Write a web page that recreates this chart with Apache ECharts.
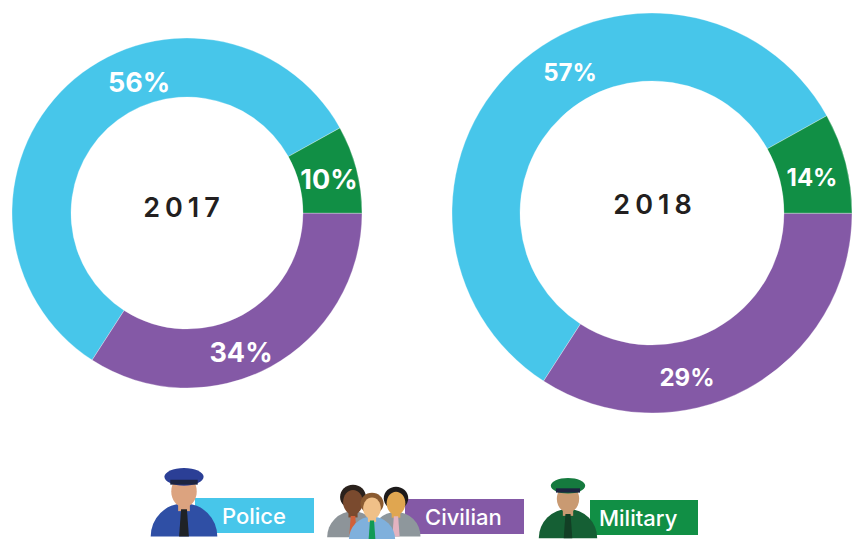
<!DOCTYPE html>
<html>
<head>
<meta charset="utf-8">
<style>
html, body { margin: 0; padding: 0; background: #fff; }
#chart { width: 857px; height: 539px; }
</style>
<script src="https://cdn.jsdelivr.net/npm/echarts@6/dist/echarts.min.js"></script>
</head>
<body>
<div id="chart"></div>
<script>
var categories = ['Police', 'Civilian', 'Military'];
var colors = ['#47c6ea', '#8459a6', '#118f45'];
var years = ['2017', '2018'];

// printed labels do not add up with the drawn arcs in the original,
// so the arcs (share of the ring) are kept apart
var arcs2017 = [57.8, 34.1, 8.1];
var arcs2018 = [57.8, 34.1, 8.1];
var labels2017 = ['56%', '34%', '10%'];
var labels2018 = ['57%', '29%', '14%'];

var fontName = 'Inter, "Open Sans", sans-serif';

function ring(arcs, labels, center, radius, labelPos, fontSize) {
    var data = [];
    for (var i = 0; i < categories.length; i++) {
        data.push({
            name: categories[i],
            value: arcs[i],
            itemStyle: { color: colors[i] },
            label: { formatter: labels[i] }
        });
    }
    return {
        type: 'pie',
        center: center,
        radius: radius,
        startAngle: 29.1,
        clockwise: false,
        silent: true,
        animation: false,
        itemStyle: { borderColor: '#fff', borderWidth: 0.3 },
        label: {
            show: true,
            position: 'inside',
            color: '#fff',
            fontFamily: fontName,
            fontWeight: 700,
            fontSize: fontSize
        },
        labelLine: { show: false },
        labelLayout: function (p) {
            return { x: labelPos[p.dataIndex][0], y: labelPos[p.dataIndex][1], align: 'center', verticalAlign: 'middle' };
        },
        data: data
    };
}

function legendBox(x, y, w, text, textX, color) {
    return [
        { type: 'rect', z: 1, shape: { x: x, y: y, width: w, height: 35 }, style: { fill: color } },
        { type: 'text', z: 3, style: { x: textX, y: y + 18, text: text, fill: '#fff', font: '500 22px ' + fontName, verticalAlign: 'middle' } }
    ];
}

// head + shoulders, a stand-in for the clip-art people in the legend
function person(cx, top, scale, skin, coat, tie, cap, hair) {
    var s = scale, out = [];
    out.push({ type: 'sector', z: 2, shape: { cx: cx, cy: top + 70 * s, r: 34 * s, r0: 0, startAngle: Math.PI, endAngle: Math.PI * 2 }, style: { fill: coat } });
    out.push({ type: 'rect', z: 2, shape: { x: cx - 6 * s, y: top + 26 * s, width: 12 * s, height: 18 * s }, style: { fill: skin } });
    if (hair) {
        out.push({ type: 'ellipse', z: 2, shape: { cx: cx, cy: top + 17 * s, rx: 17 * s, ry: 16 * s }, style: { fill: hair } });
    }
    out.push({ type: 'ellipse', z: 2, shape: { cx: cx, cy: top + 24 * s, rx: 13 * s, ry: 16 * s }, style: { fill: skin } });
    if (tie) {
        out.push({ type: 'polygon', z: 2, shape: { points: [[cx - 3 * s, top + 42 * s], [cx + 3 * s, top + 42 * s], [cx + 5 * s, top + 70 * s], [cx - 5 * s, top + 70 * s]] }, style: { fill: tie } });
    }
    if (cap) {
        out.push({ type: 'ellipse', z: 2, shape: { cx: cx, cy: top + 9 * s, rx: 20 * s, ry: 9 * s }, style: { fill: cap } });
        out.push({ type: 'rect', z: 2, shape: { x: cx - 14 * s, y: top + 12 * s, width: 28 * s, height: 5 * s }, style: { fill: '#1c2440' } });
    }
    return out;
}

var graphics = [].concat(
    legendBox(195, 498, 119, categories[0], 222, colors[0]),
    legendBox(405, 499, 119, categories[1], 425, colors[1]),
    legendBox(590, 500, 108, categories[2], 599, colors[2]),
    person(184, 468, 0.98, '#dca37f', '#2f4fa5', '#1f2226', '#2b3f96', null),
    person(353, 484, 0.76, '#7a4a2e', '#8d9499', '#d0603a', null, '#2a211c'),
    person(396, 486, 0.72, '#e0a650', '#8e979c', '#e3b3c0', null, '#1d1a1a'),
    person(372, 492, 0.68, '#f0c088', '#7fb0dc', '#129a55', null, '#8a5a30'),
    person(568, 478, 0.86, '#c99a72', '#155f34', '#123f25', '#157a3e', null)
);

var chart = echarts.init(document.getElementById('chart'), null, { renderer: 'svg' });
chart.setOption({
    animation: false,
    title: [
        { text: years[0], left: 179, top: 202, textAlign: 'center', textVerticalAlign: 'middle', textStyle: { color: '#231f20', fontFamily: fontName, fontWeight: 600, fontSize: 27 } },
        { text: years[1], left: 650, top: 199, textAlign: 'center', textVerticalAlign: 'middle', textStyle: { color: '#231f20', fontFamily: fontName, fontWeight: 600, fontSize: 27 } }
    ],
    series: [
        ring(arcs2017, labels2017, [187, 213], [116, 175], [[139, 82], [241, 352], [329, 179]], 27),
        ring(arcs2018, labels2018, [652, 213], [132, 200], [[570, 72], [687, 377], [812, 177]], 24)
    ],
    graphic: graphics
});

// the year captions are letter-spaced, which only the svg text can do
var texts = document.querySelectorAll('#chart svg text');
for (var i = 0; i < texts.length; i++) {
    if (years.indexOf(texts[i].textContent) > -1) {
        texts[i].style.letterSpacing = '5px';
    }
}
</script>
</body>
</html>
